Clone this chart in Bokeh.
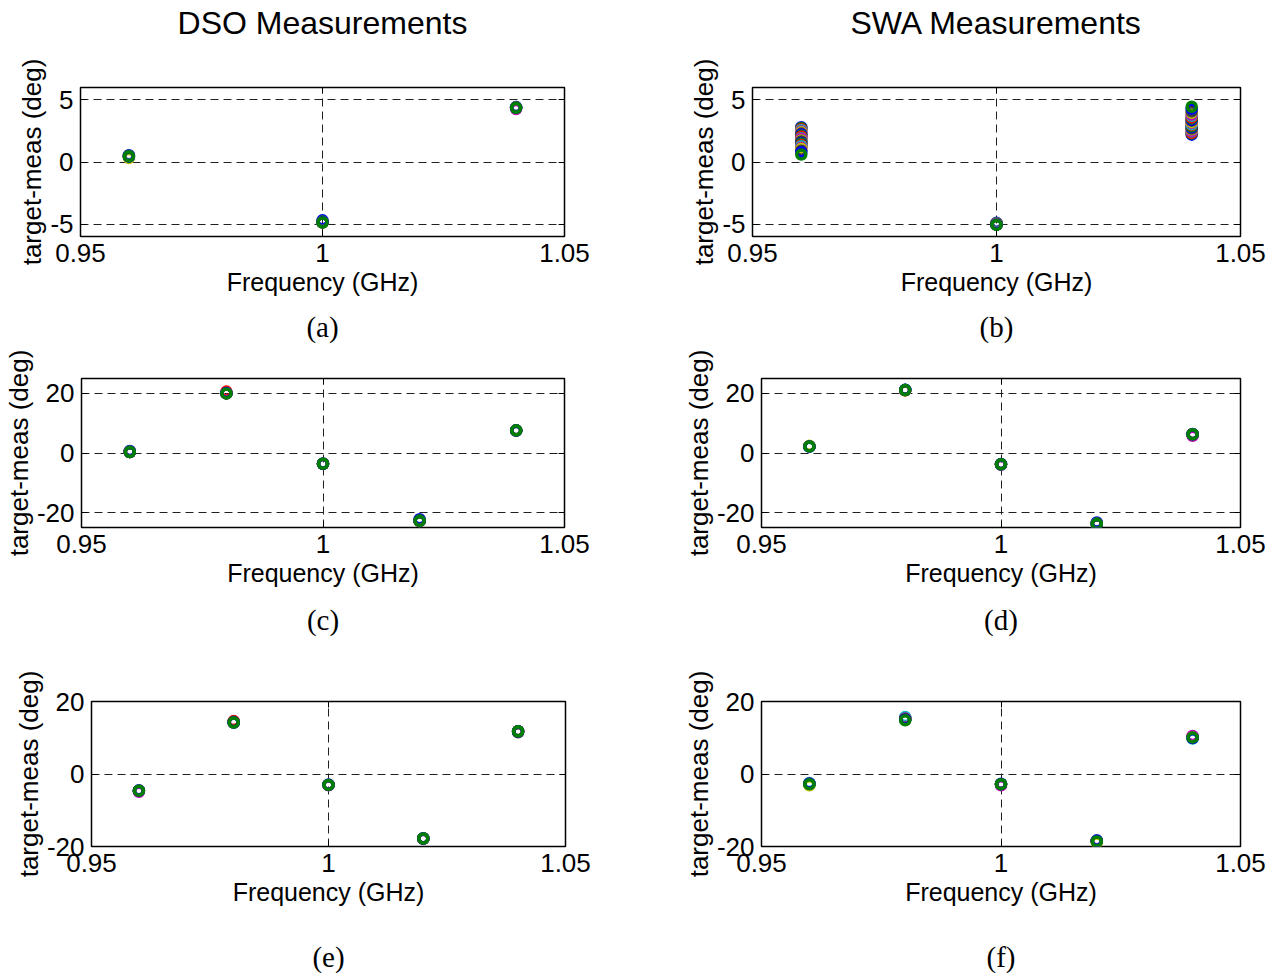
from bokeh.plotting import figure
from bokeh.layouts import column, row
from bokeh.models import LinearAxis, FixedTicker, Range1d
from bokeh.embed import file_html
from bokeh.resources import INLINE

# ---------------- data ----------------
FREQ3 = [0.96, 1.00, 1.04]
FREQ5 = [0.96, 0.98, 1.00, 1.02, 1.04]
X_TICKS = [0.95, 1.00, 1.05]
X_TICK_LABELS = {0.95: "0.95", 1.0: "1", 1.05: "1.05"}
Y_TICKS_SMALL = [-5, 0, 5]
Y_TICKS_LARGE = [-20, 0, 20]
Y_TICK_LABELS = {-20: "-20", -5: "-5", 0: "0", 5: "5", 20: "20"}

# (a) DSO, 3 tones, 9 repeated measurements
DSO_A_096 = [0.55, 0.50, 0.46, 0.48, 0.44, 0.32, 0.47, 0.43, 0.45]
DSO_A_100 = [-4.70, -4.80, -4.84, -4.83, -4.86, -4.88, -4.85, -4.86, -4.87]
DSO_A_104 = [4.42, 4.40, 4.38, 4.37, 4.26, 4.35, 4.37, 4.36, 4.36]

# (b) SWA, 3 tones, 23 repeated measurements
SWA_A_096 = [2.80, 2.73, 2.64, 2.56, 2.46, 2.39, 2.29, 2.22, 2.11, 2.03, 1.92, 1.85,
             1.73, 1.66, 1.54, 1.47, 1.35, 1.27, 1.14, 1.06, 0.91, 0.79, 0.60]
SWA_A_100 = [-4.90, -4.93, -4.95, -4.94, -4.97, -4.98, -4.96, -5.00, -4.99, -5.01, -5.00, -5.02,
             -5.01, -5.03, -5.02, -5.04, -5.03, -5.05, -5.04, -5.05, -5.06, -5.05, -5.07]
SWA_A_104 = [2.20, 2.29, 2.35, 2.46, 2.51, 2.63, 2.69, 2.80, 2.87, 2.97, 3.04, 3.15,
             3.21, 3.33, 3.40, 3.51, 3.59, 3.72, 3.82, 3.96, 4.09, 4.28, 4.45]

# (c) DSO, 5 tones
DSO_B_096 = [0.7, 0.5, 0.35, 0.3, 0.3, 0.3, 0.3, 0.3, 0.3]
DSO_B_098 = [20.0, 20.1, 20.6, 20.1, 20.0, 20.0, 20.0, 20.1, 20.0]
DSO_B_100 = [-3.5, -3.6, -3.6, -3.6, -3.7, -3.6, -3.6, -3.6, -3.6]
DSO_B_102 = [-22.2, -22.6, -22.8, -22.8, -22.8, -22.9, -22.8, -22.8, -22.8]
DSO_B_104 = [7.6, 7.5, 7.6, 7.4, 7.5, 7.6, 7.5, 7.6, 7.6]

# (d) SWA, 5 tones
SWA_B_096 = [2.3, 2.2, 2.2, 2.1, 2.2, 2.4, 2.2, 2.2, 2.2]
SWA_B_098 = [21.2, 21.1, 21.0, 21.2, 21.1, 21.0, 21.1, 21.1, 21.1]
SWA_B_100 = [-3.7, -3.8, -3.8, -3.9, -4.0, -3.8, -3.8, -3.8, -3.8]
SWA_B_102 = [-23.3, -23.6, -23.8, -23.8, -23.8, -23.9, -23.8, -23.8, -23.8]
SWA_B_104 = [6.4, 6.3, 6.3, 6.2, 5.8, 6.3, 6.2, 6.3, 6.3]

# (e) DSO, 5 tones
DSO_C_096 = [-4.5, -4.6, -4.6, -4.6, -4.9, -4.6, -4.6, -4.6, -4.6]
DSO_C_098 = [14.2, 14.3, 14.6, 14.2, 14.2, 14.2, 14.4, 14.2, 14.2]
DSO_C_100 = [-2.9, -3.0, -3.0, -3.0, -3.1, -3.0, -3.0, -3.0, -3.0]
DSO_C_102 = [-17.7, -17.8, -17.8, -17.8, -17.9, -17.8, -17.8, -17.8, -17.8]
DSO_C_104 = [11.7, 11.8, 11.8, 11.7, 11.8, 11.8, 11.5, 11.8, 11.8]

# (f) SWA, 5 tones
SWA_C_096 = [-2.6, -2.8, -2.7, -2.5, -2.7, -3.1, -2.7, -2.7, -2.8]
SWA_C_098 = [15.4, 15.0, 15.2, 15.7, 15.3, 15.1, 15.2, 15.0, 14.8]
SWA_C_100 = [-2.7, -2.8, -2.8, -2.8, -3.1, -2.8, -2.8, -2.8, -2.8]
SWA_C_102 = [-18.3, -18.5, -18.5, -18.4, -18.5, -18.9, -18.5, -18.5, -18.6]
SWA_C_104 = [10.3, 10.0, 10.0, 9.8, 10.5, 10.1, 10.0, 9.9, 10.1]

COLORS = ["#0000FF", "#008000", "#FF0000", "#00BFBF", "#BF00BF", "#BFBF00", "#404040"]

SANS = "Liberation Sans"
SERIF = "Liberation Serif"


def make_panel(freqs, per_freq, ylim, yticks, width, height, left, right, top, bottom,
               letter, letter_standoff, title=None, title_standoff=47, xlabel_standoff=3):
    p = figure(width=width, height=height, x_range=Range1d(0.95, 1.05),
               y_range=Range1d(*ylim), min_border_left=left, min_border_right=right,
               min_border_top=top, min_border_bottom=bottom,
               output_backend="svg", toolbar_location=None,
               x_axis_label="Frequency (GHz)", y_axis_label="target-meas (deg)")
    p.background_fill_color = "white"
    p.border_fill_color = "white"
    p.outline_line_color = "black"
    p.outline_line_width = 1.5
    p.outline_line_alpha = 1.0

    p.xaxis.ticker = FixedTicker(ticks=X_TICKS)
    p.xaxis.major_label_overrides = X_TICK_LABELS
    p.yaxis.ticker = FixedTicker(ticks=yticks)
    p.yaxis.major_label_overrides = {t: Y_TICK_LABELS[t] for t in yticks}
    for ax in (p.xaxis[0], p.yaxis[0]):
        ax.axis_line_color = None
        ax.major_tick_in = 6
        ax.major_tick_out = 0
        ax.minor_tick_line_color = None
        ax.major_tick_line_color = "black"
        ax.major_label_text_font = SANS
        ax.major_label_text_font_size = "26px"
        ax.major_label_text_color = "black"
        ax.major_label_standoff = 7
        ax.axis_label_text_font = SANS
        ax.axis_label_text_font_style = "normal"
        ax.axis_label_text_color = "black"
    p.xaxis.axis_label_text_font_size = "25px"
    p.xaxis.axis_label_standoff = xlabel_standoff
    p.yaxis.axis_label_text_font_size = "26px"
    p.yaxis.axis_label_standoff = 0

    # opposite-side axes: inward ticks only, no tick labels
    rax = LinearAxis(ticker=FixedTicker(ticks=yticks),
                     major_label_overrides={t: "" for t in yticks})
    tax = LinearAxis(ticker=FixedTicker(ticks=X_TICKS),
                     major_label_overrides={t: "" for t in X_TICKS})
    for ax in (rax, tax):
        ax.axis_line_color = None
        ax.major_tick_in = 6
        ax.major_tick_out = 0
        ax.minor_tick_line_color = None
        ax.major_label_standoff = 0
    if title is not None:
        # column heading carried by the top axis label
        tax.axis_label = title
        tax.axis_label_text_font = SANS
        tax.axis_label_text_font_size = "32px"
        tax.axis_label_text_font_style = "normal"
        tax.axis_label_text_color = "black"
        tax.axis_label_standoff = title_standoff
    p.add_layout(rax, "right")
    p.add_layout(tax, "above")

    # panel letter carried by an extra, tick-less bottom axis
    lax = LinearAxis(ticker=FixedTicker(ticks=[]), axis_label=letter)
    lax.axis_line_color = None
    lax.major_tick_line_color = None
    lax.minor_tick_line_color = None
    lax.major_tick_in = 0
    lax.major_tick_out = 0
    lax.major_label_standoff = 0
    lax.axis_label_text_font = SERIF
    lax.axis_label_text_font_size = "29px"
    lax.axis_label_text_font_style = "normal"
    lax.axis_label_text_color = "black"
    lax.axis_label_standoff = letter_standoff
    p.add_layout(lax, "below")

    p.xgrid.ticker = FixedTicker(ticks=X_TICKS)
    p.ygrid.ticker = FixedTicker(ticks=yticks)
    for g in (p.xgrid[0], p.ygrid[0]):
        g.grid_line_color = "#202020"
        g.grid_line_dash = "8 5"
        g.grid_line_width = 1

    n = len(per_freq[0])
    for i in range(n):
        ys = [vals[i] for vals in per_freq]
        p.scatter(x=freqs, y=ys, marker="circle", size=9, fill_color=None,
                  line_color=COLORS[i % len(COLORS)], line_width=3.5)
    return p


pa = make_panel(FREQ3, [DSO_A_096, DSO_A_100, DSO_A_104], (-6, 6), Y_TICKS_SMALL,
                680, 348, 80, 116, 87, 112, "(a)", 12, "DSO Measurements")
pb = make_panel(FREQ3, [SWA_A_096, SWA_A_100, SWA_A_104], (-6, 6), Y_TICKS_SMALL,
                596, 348, 72, 36, 87, 112, "(b)", 12, "SWA Measurements")
pc = make_panel(FREQ5, [DSO_B_096, DSO_B_098, DSO_B_100, DSO_B_102, DSO_B_104], (-25, 25),
                Y_TICKS_LARGE, 680, 302, 80, 116, 30, 123, "(c)", 14)
pd = make_panel(FREQ5, [SWA_B_096, SWA_B_098, SWA_B_100, SWA_B_102, SWA_B_104], (-25, 25),
                Y_TICKS_LARGE, 596, 302, 68, 36, 30, 123, "(d)", 14)
pe = make_panel(FREQ5, [DSO_C_096, DSO_C_098, DSO_C_100, DSO_C_102, DSO_C_104], (-20, 20),
                Y_TICKS_LARGE, 680, 327, 91, 115, 51, 128, "(e)", 32)
pf = make_panel(FREQ5, [SWA_C_096, SWA_C_098, SWA_C_100, SWA_C_102, SWA_C_104], (-20, 20),
                Y_TICKS_LARGE, 596, 327, 76, 36, 46, 131, "(f)", 32)

layout = column(row(pa, pb), row(pc, pd), row(pe, pf))
open("out.html", "w").write(file_html(layout, INLINE))
